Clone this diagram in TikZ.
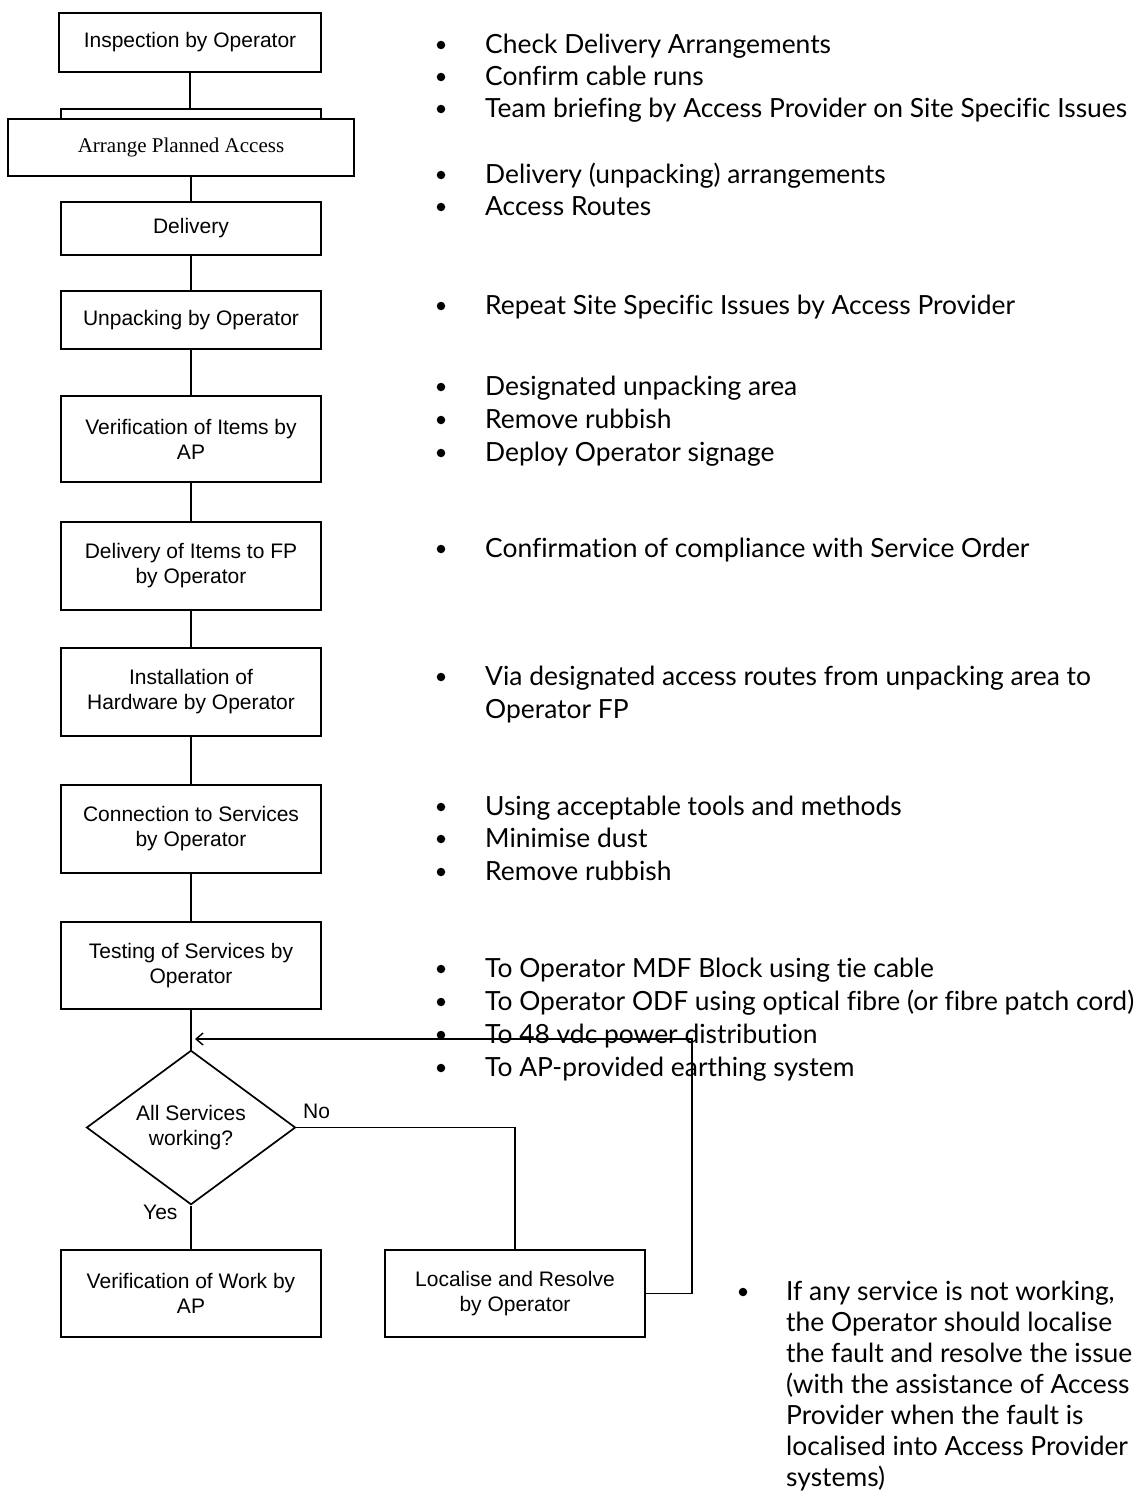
\documentclass[tikz,border=0pt]{standalone}
\usepackage{fontspec}
\setmainfont{Liberation Sans}
\newfontfamily\serifface{Liberation Serif}
\newfontfamily\notesface{Lato}[Ligatures=NoCommon]
\usetikzlibrary{shapes.geometric,arrows.meta}
\newcommand\bpoint[3]{%
  \node[bdot] (#1dot) at (441,#2-8) {};
  \node[note] (#1) at (485,#2) {#3};}
\begin{document}
\begin{tikzpicture}[x=1pt,y=-1pt,
  flowbox/.style={draw, line width=1.7pt, fill=white, inner sep=0pt, minimum width=260pt, align=center, font=\fontsize{21}{25}\selectfont},
  link/.style={line width=1.7pt},
  note/.style={anchor=base west, inner sep=0pt, font=\notesface\fontsize{26.4}{31}\selectfont},
  bdot/.style={fill=black, circle, inner sep=0pt, minimum size=8.5pt},
  lbl/.style={anchor=base west, inner sep=0pt, font=\fontsize{21}{25}\selectfont}]
\useasboundingbox (0,0) rectangle (1140,1496);

% flow boxes
\node[flowbox, minimum width=262pt, minimum height=59pt] (insp) at (190,42.5) {Inspection by Operator};
\node[draw, line width=1.7pt, minimum width=260pt, minimum height=50pt, inner sep=0pt] (pending) at (191,134) {};
\node[flowbox, minimum width=346pt, minimum height=57pt, font=\serifface\fontsize{21}{25}\selectfont] (arrange) at (181,147.5) {\raisebox{5pt}{Arrange Planned Access}};
\node[flowbox, minimum height=53pt] (delivery) at (191,228.5) {Delivery};
\node[flowbox, minimum height=58pt] (unpack) at (191,320) {Unpacking by Operator};
\node[flowbox, minimum height=86pt] (verifyitems) at (191,439) {Verification of Items by\\AP};
\node[flowbox, minimum height=88pt] (deliverfp) at (191,566) {Delivery of Items to FP\\by Operator};
\node[flowbox, minimum height=88pt] (install) at (191,692) {Installation of\\Hardware by Operator};
\node[flowbox, minimum height=88pt] (connect) at (191,829) {Connection to Services\\by Operator};
\node[flowbox, minimum height=87pt] (testing) at (191,965.5) {Testing of Services by\\Operator};
\node[draw, line width=1.7pt, diamond, minimum width=209pt, minimum height=121pt, inner sep=0pt, align=center, font=\fontsize{21}{25}\selectfont] (allok) at (191,1127.5) {All Services\\working?};
\node[flowbox, minimum height=87pt] (verifywork) at (191,1293.5) {Verification of Work by\\AP};
\node[flowbox, minimum height=87pt] (localise) at (515,1293.5) {Localise and Resolve\\by Operator};

% bullet notes
\bpoint{ga}{53}{Check Delivery Arrangements}
\bpoint{gb}{85}{Confirm cable runs}
\bpoint{gc}{117}{Team briefing by Access Provider on Site Specific Issues}
\bpoint{gd}{183}{Delivery (unpacking) arrangements}
\bpoint{ge}{215}{Access Routes}
\bpoint{gf}{314}{Repeat Site Specific Issues by Access Provider}
\bpoint{gg}{395}{Designated unpacking area}
\bpoint{gh}{428}{Remove rubbish}
\bpoint{gi}{461}{Deploy Operator signage}
\bpoint{gj}{557}{Confirmation of compliance with Service Order}
\bpoint{gk}{685}{Via designated access routes from unpacking area to}
\node[note] (gk2) at (485,718) {Operator FP};
\bpoint{gl}{815}{Using acceptable tools and methods}
\bpoint{gm}{847}{Minimise dust}
\bpoint{gn}{880}{Remove rubbish}
\bpoint{go}{977}{To Operator MDF Block using tie cable}
\bpoint{gp}{1010}{To Operator ODF using optical fibre (or fibre patch cord)}
\bpoint{gq}{1043}{To 48 vdc power distribution}
\bpoint{gr}{1076}{To AP-provided earthing system}

\node[bdot] (fixdot) at (743,1292) {};
\node[note] (fix1) at (786,1300) {If any service is not working,};
\node[note] (fix2) at (786,1331) {the Operator should localise};
\node[note] (fix3) at (786,1362) {the fault and resolve the issue};
\node[note] (fix4) at (786,1393) {(with the assistance of Access};
\node[note] (fix5) at (786,1424) {Provider when the fault is};
\node[note] (fix6) at (786,1455) {localised into Access Provider};
\node[note] (fix7) at (786,1486) {systems)};

% connectors
\draw[link] (insp.south) -- (insp.south |- pending.north);
\draw[link] (delivery.north |- arrange.south) -- (delivery.north);
\draw[link] (delivery) -- (unpack);
\draw[link] (unpack) -- (verifyitems);
\draw[link] (verifyitems) -- (deliverfp);
\draw[link] (deliverfp) -- (install);
\draw[link] (install) -- (connect);
\draw[link] (connect) -- (testing);
\draw[link] (testing) -- (allok);
\draw[link] (allok) -- (verifywork);
\draw[link] (allok.east) -| (localise.north);
\coordinate (loopcorner) at (692,1039);
\coordinate (looptip) at (195,1039);
\draw[link, -{Straight Barb[length=7pt,width=12pt,line width=1.4pt]}] (localise.east) -| (loopcorner) -- (looptip);
\node[lbl] (nolabel) at (303,1118) {No};
\node[lbl] (yeslabel) at (143,1219) {Yes};
\end{tikzpicture}
\end{document}
